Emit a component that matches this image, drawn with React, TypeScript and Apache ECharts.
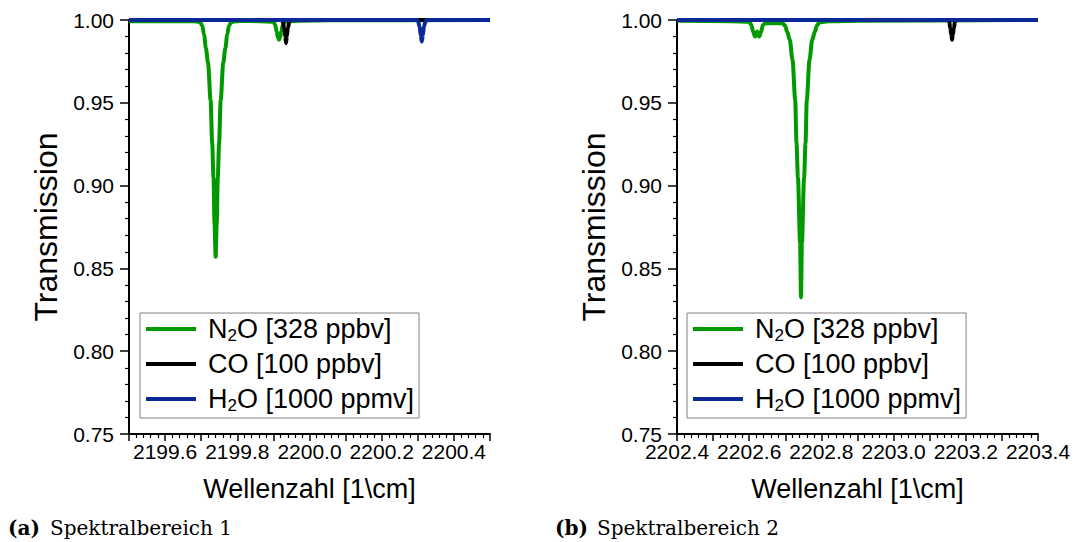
import React, { useEffect, useRef } from 'react';
import * as echarts from 'echarts';

const FONT = '"Liberation Sans", Arial, sans-serif';
const SERIF = '"DejaVu Serif", serif';

const seriesNames = ['N2O [328 ppbv]', 'CO [100 ppbv]', 'H2O [1000 ppmv]'];
const seriesColors = ['#009a00', '#000000', '#0a2896'];

const xRangeLeft = [2199.5, 2200.5];
const xRangeRight = [2202.4, 2203.4];
const yRange = [0.75, 1.0];

const yAxisTitle = 'Transmission';
const xAxisTitle = 'Wellenzahl [1\\cm]';
const captionTags = ['(a)', '(b)'];
const captionTexts = ['Spektralbereich 1', 'Spektralbereich 2'];

// Spektralbereich 1
const n2oLeft: [number, number][] = [
  [2199.5, 0.9993], [2199.68, 0.9993], [2199.693, 0.999], [2199.698, 0.9983], [2199.703, 0.9965],
  [2199.708, 0.991], [2199.713, 0.983], [2199.719, 0.974], [2199.726, 0.9516], [2199.7305, 0.9255],
  [2199.734, 0.905], [2199.737, 0.877], [2199.74, 0.857], [2199.743, 0.877], [2199.746, 0.905],
  [2199.7495, 0.9255], [2199.754, 0.9516], [2199.761, 0.974], [2199.767, 0.983], [2199.772, 0.991],
  [2199.777, 0.9965], [2199.782, 0.9983], [2199.787, 0.999], [2199.81, 0.9994], [2199.86, 0.9993],
  [2199.9, 0.999], [2199.905, 0.997], [2199.909, 0.993], [2199.912, 0.99], [2199.9155, 0.988],
  [2199.919, 0.99], [2199.922, 0.993], [2199.926, 0.997], [2199.931, 0.999], [2199.97, 0.9995],
  [2200.05, 0.9998], [2200.5, 1.0],
];
const coLeft: [number, number][] = [
  [2199.5, 1.0], [2199.922, 1.0], [2199.926, 0.999], [2199.93, 0.995], [2199.933, 0.99],
  [2199.935, 0.986], [2199.937, 0.99], [2199.94, 0.995], [2199.944, 0.999], [2199.948, 1.0],
  [2200.5, 1.0],
];
const h2oLeft: [number, number][] = [
  [2199.5, 1.0], [2200.298, 1.0], [2200.301, 0.999], [2200.305, 0.996], [2200.308, 0.991],
  [2200.311, 0.987], [2200.314, 0.991], [2200.317, 0.996], [2200.321, 0.999], [2200.324, 1.0],
  [2200.5, 1.0],
];

// Spektralbereich 2
const n2oRight: [number, number][] = [
  [2202.4, 0.9995], [2202.55, 0.9993], [2202.6, 0.999], [2202.606, 0.997], [2202.611, 0.993],
  [2202.616, 0.99], [2202.622, 0.993], [2202.628, 0.99], [2202.633, 0.993], [2202.638, 0.997],
  [2202.645, 0.998], [2202.693, 0.998], [2202.6995, 0.9965], [2202.705, 0.993], [2202.7125, 0.988],
  [2202.72, 0.9758], [2202.7275, 0.9516], [2202.731, 0.9255], [2202.735, 0.905], [2202.741, 0.865],
  [2202.7435, 0.8325], [2202.746, 0.865], [2202.752, 0.905], [2202.756, 0.9255], [2202.7595, 0.9516],
  [2202.767, 0.9758], [2202.7745, 0.988], [2202.782, 0.993], [2202.7875, 0.9965], [2202.794, 0.9985],
  [2202.82, 0.9992], [2202.9, 0.9996], [2203.4, 1.0],
];
const coRight: [number, number][] = [
  [2202.4, 1.0], [2203.15, 1.0], [2203.154, 0.999], [2203.157, 0.995], [2203.16, 0.991],
  [2203.162, 0.988], [2203.164, 0.991], [2203.167, 0.995], [2203.17, 0.999], [2203.174, 1.0],
  [2203.4, 1.0],
];
const h2oRight: [number, number][] = [[2202.4, 1.0], [2203.4, 1.0]];

const leftData = [n2oLeft, coLeft, h2oLeft];
const rightData = [n2oRight, coRight, h2oRight];

const grids = [
  { left: 129, top: 20, width: 361, height: 414 },
  { left: 677, top: 20, width: 361, height: 414 },
];

function makeX(range: number[], gridIndex: number) {
  return {
    type: 'value',
    gridIndex,
    min: range[0],
    max: range[1],
    interval: 0.1,
    name: xAxisTitle,
    nameLocation: 'middle',
    nameGap: 41,
    nameTextStyle: { fontFamily: FONT, fontSize: 27, color: '#000' },
    axisLine: { show: true, onZero: false, lineStyle: { color: '#000', width: 2 } },
    axisTick: { show: true, inside: false, length: 7, lineStyle: { color: '#000', width: 1.5 } },
    minorTick: { show: true, splitNumber: 5, length: 4, lineStyle: { color: '#000', width: 1.2 } },
    splitLine: { show: false },
    axisLabel: {
      margin: 7,
      fontFamily: FONT,
      fontSize: 21,
      color: '#000',
      formatter: (v: number) => (Math.round(v * 10) % 2 === 0 ? v.toFixed(1) : ''),
    },
  };
}

function makeY(gridIndex: number) {
  return {
    type: 'value',
    gridIndex,
    min: yRange[0],
    max: yRange[1],
    interval: 0.05,
    name: yAxisTitle,
    nameLocation: 'middle',
    nameGap: 67,
    nameTextStyle: { fontFamily: FONT, fontSize: 32, color: '#000' },
    axisLine: { show: true, onZero: false, lineStyle: { color: '#000', width: 2 } },
    axisTick: { show: true, inside: false, length: 9, lineStyle: { color: '#000', width: 1.5 } },
    minorTick: { show: true, splitNumber: 5, length: 4, lineStyle: { color: '#000', width: 1.2 } },
    splitLine: { show: false },
    axisLabel: {
      margin: 15,
      fontFamily: FONT,
      fontSize: 21,
      color: '#000',
      formatter: (v: number) => v.toFixed(2),
    },
  };
}

function makeLegend(left: number) {
  return {
    left,
    top: 313,
    orient: 'vertical',
    data: seriesNames,
    icon: 'rect',
    itemWidth: 50,
    itemHeight: 4,
    itemGap: 5,
    padding: [1, 5, 4, 6],
    borderColor: '#808080',
    borderWidth: 1,
    borderRadius: 0,
    backgroundColor: '#ffffff',
    selectedMode: false,
    formatter: (n: string) => n.replace('2O', '{s|2}O'),
    textStyle: {
      fontFamily: FONT,
      fontSize: 27,
      color: '#000',
      lineHeight: 30,
      padding: [0, 0, 0, 7],
      rich: {
        s: { fontFamily: FONT, fontSize: 17, lineHeight: 17, verticalAlign: 'bottom', color: '#000' },
      },
    },
  };
}

function makeSeries(data: [number, number][][], idx: number) {
  return data.map((d, i) => ({
    type: 'line',
    name: seriesNames[i],
    data: d,
    xAxisIndex: idx,
    yAxisIndex: idx,
    symbol: 'none',
    showSymbol: false,
    smooth: 0.3,
    smoothMonotone: 'x',
    color: seriesColors[i],
    lineStyle: { color: seriesColors[i], width: 4 },
    z: 2 + i,
    silent: true,
  }));
}

function captionGraphics() {
  const xs = [
    [8, 50],
    [555, 597],
  ];
  const out: any[] = [];
  for (let i = 0; i < 2; i++) {
    out.push({
      type: 'text',
      x: xs[i][0],
      y: 528,
      style: { text: captionTags[i], font: `bold 20px ${SERIF}`, fill: '#000', verticalAlign: 'middle' },
    });
    out.push({
      type: 'text',
      x: xs[i][1],
      y: 528,
      style: { text: captionTexts[i], font: `20px ${SERIF}`, fill: '#000', verticalAlign: 'middle' },
    });
  }
  return out;
}

export default function App() {
  const ref = useRef<HTMLDivElement>(null);
  useEffect(() => {
    const chart = echarts.init(ref.current!, null, { renderer: 'svg' });
    chart.setOption({
      animation: false,
      backgroundColor: '#ffffff',
      grid: grids,
      xAxis: [makeX(xRangeLeft, 0), makeX(xRangeRight, 1)],
      yAxis: [makeY(0), makeY(1)],
      legend: [makeLegend(140), makeLegend(687)],
      series: [...makeSeries(leftData, 0), ...makeSeries(rightData, 1)],
      graphic: captionGraphics(),
    });
    return () => chart.dispose();
  }, []);
  return (
    <div
      ref={ref}
      style={{ position: 'absolute', left: 0, top: 0, width: 1075, height: 542, background: '#fff' }}
    />
  );
}
